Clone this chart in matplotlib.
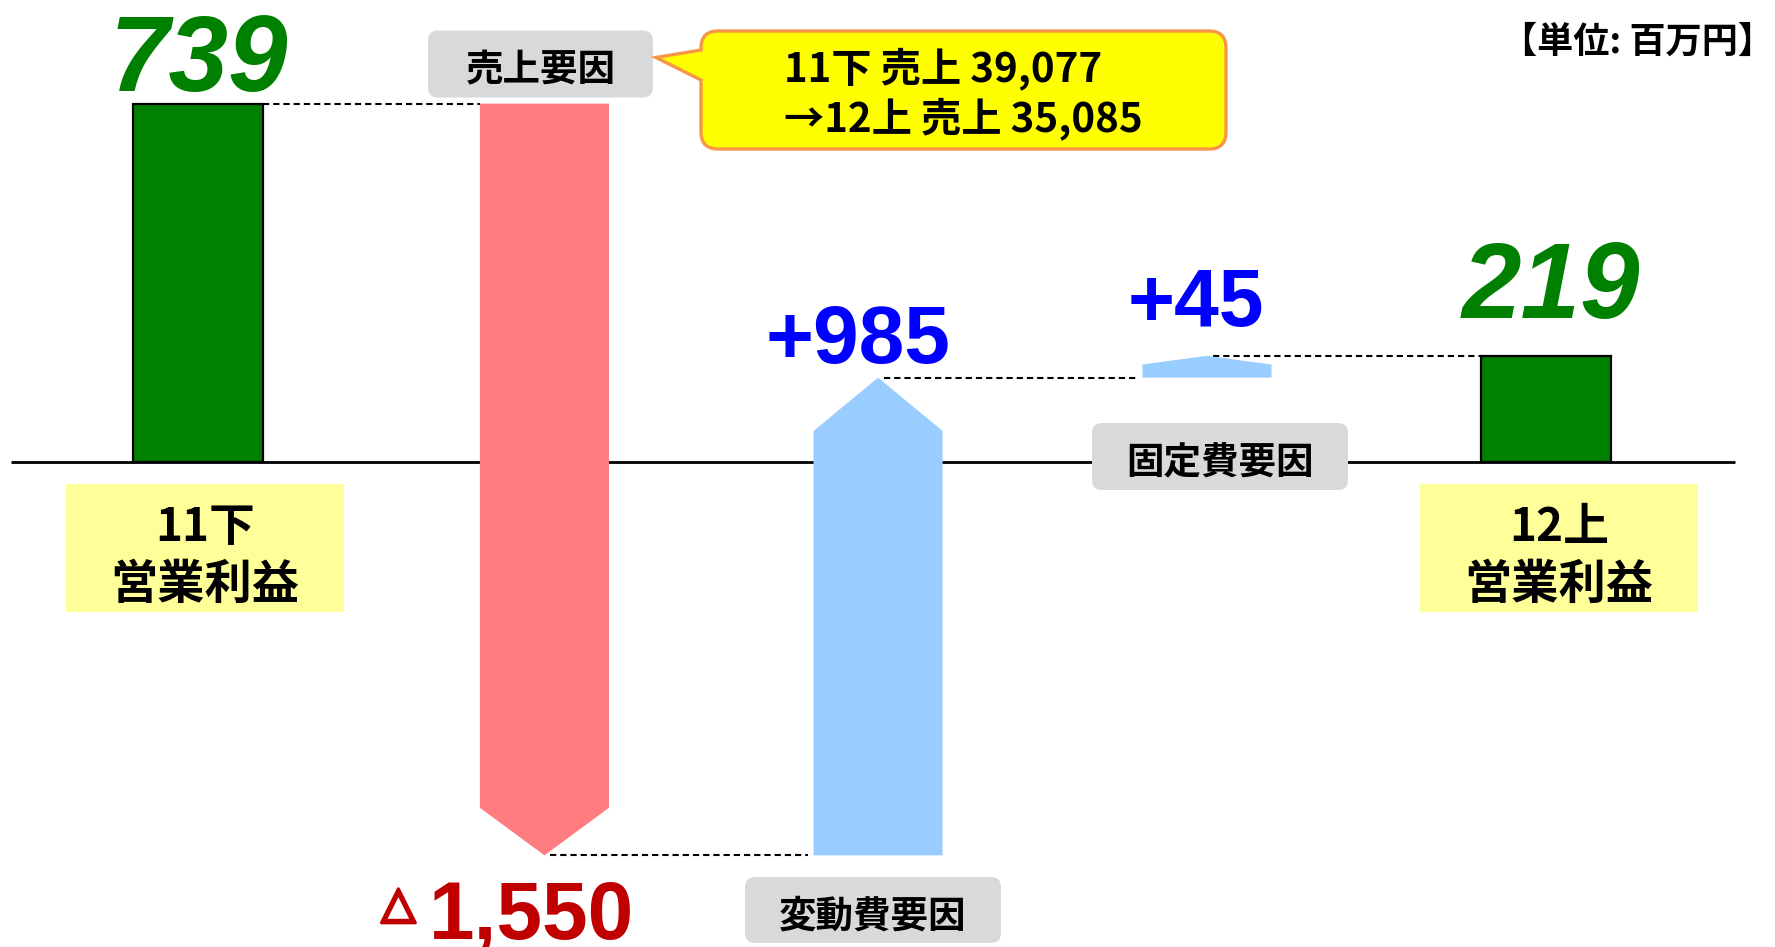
import matplotlib
matplotlib.use("Agg")
import matplotlib.pyplot as plt
import matplotlib.patheffects as pe
from matplotlib.patches import Polygon, FancyBboxPatch, Rectangle
from matplotlib.lines import Line2D
from matplotlib.transforms import Affine2D

plt.rcParams['font.family'] = ['Noto Sans CJK JP', 'DejaVu Sans']

# ---------------- data ----------------
categories = ['11下\n営業利益', '売上要因', '変動費要因', '固定費要因', '12上\n営業利益']
values = [739, -1550, 985, 45, 219]
kinds = ['total', 'delta', 'delta', 'delta', 'total']
value_labels = ['739', '1,550', '+985', '+45', '219']
callout_lines = ['11下 売上 39,077', '→12上 売上 35,085']
unit_label = '【単位: 百万円】'

# ---------------- layout / style ----------------
W, H, DPI = 1775, 947, 100
positions = [0, 1.028, 2.018, 2.994, 4.0]
bar_w = 0.383
x_px0, x_step = 198, 337          # pixel of position 0, pixels per position
y_px0, px_per_unit = 462, 0.485   # pixel of zero line, pixels per value unit
heads = [None, 98, 110, 18, None]
GREEN, PINK, BLUE = '#008000', '#FF7C80', '#99CCFF'
DARKRED, NUMBLUE = '#C00000', '#0000FF'
GRAY, LYELLOW, YELLOW, ORANGE = '#D9D9D9', '#FFFF99', '#FFFF00', '#F79646'
PT = 72 / DPI  # points per pixel

fig = plt.figure(figsize=(W / DPI, H / DPI), dpi=DPI)
ax = fig.add_axes([0, 0, 1, 1])
ax.set_xlim(-x_px0 / x_step, (W - x_px0) / x_step)
ax.set_ylim(-(H - y_px0) / px_per_unit, y_px0 / px_per_unit)
ax.axis('off')

# pixel-space transform for decorations (origin top-left)
tp = Affine2D().scale(1 / W, -1 / H).translate(0, 1) + fig.transFigure

# cumulative start/end
starts, ends = [], []
run = 0
for v, k in zip(values, kinds):
    if k == 'total':
        starts.append(0)
        ends.append(v)
        run = v
    else:
        starts.append(run)
        run += v
        ends.append(run)

# zero line
ax.plot([(11 - x_px0) / x_step, (1735 - x_px0) / x_step], [0, 0],
        color='black', lw=2.0, zorder=1, solid_capstyle='butt')

# bars / arrows
for i, (p, s, e, k) in enumerate(zip(positions, starts, ends, kinds)):
    if k == 'total':
        ax.add_patch(Rectangle((p - bar_w / 2, s), bar_w, e - s, facecolor=GREEN,
                               edgecolor='black', lw=1.6, zorder=3))
    else:
        h = heads[i]
        col = PINK if e < s else BLUE
        sh = e + h if e < s else e - h
        pts = [(p - bar_w / 2, s), (p + bar_w / 2, s), (p + bar_w / 2, sh),
               (p, e), (p - bar_w / 2, sh)]
        ax.add_patch(Polygon(pts, closed=True, facecolor=col, edgecolor='none', zorder=3))

# dashed connectors
dash = dict(color='black', lw=1.5, linestyle=(0, (3.0, 1.9)), zorder=2)
gap = 6 / x_step
ax.plot([positions[0] + bar_w / 2, positions[1] - bar_w / 2], [ends[0], ends[0]], **dash)
ax.plot([positions[1] + gap, positions[2] - bar_w / 2 - gap], [ends[1], ends[1]], **dash)
ax.plot([positions[2] + gap, positions[3] - bar_w / 2 - gap], [ends[2], ends[2]], **dash)
ax.plot([positions[3] + gap, positions[4] - bar_w / 2], [ends[3], ends[3]], **dash)

# value labels
num_font = 'Liberation Sans'
ax.annotate(value_labels[0], xy=(positions[0], ends[0]), xytext=(1 * PT, 13 * PT),
            textcoords='offset points', ha='center', va='baseline', fontsize=77,
            fontweight='bold', fontstyle='italic', color=GREEN, family=num_font)
ax.annotate(value_labels[4], xy=(positions[4], ends[4]), xytext=(5 * PT, 38 * PT),
            textcoords='offset points', ha='center', va='baseline', fontsize=77,
            fontweight='bold', fontstyle='italic', color=GREEN, family=num_font)
ax.annotate(value_labels[2], xy=(positions[2], ends[2]), xytext=(-20 * PT, 15 * PT),
            textcoords='offset points', ha='center', va='baseline', fontsize=59,
            fontweight='bold', color=NUMBLUE, family=num_font)
ax.annotate(value_labels[3], xy=(positions[3], ends[3]), xytext=(-11 * PT, 30 * PT),
            textcoords='offset points', ha='center', va='baseline', fontsize=58,
            fontweight='bold', color=NUMBLUE, family=num_font)
ax.annotate(value_labels[1], xy=(positions[1], ends[1]), xytext=(-13 * PT, -83 * PT),
            textcoords='offset points', ha='center', va='baseline', fontsize=59,
            fontweight='bold', color=DARKRED, family=num_font)
ax.annotate('△', xy=(positions[1], ends[1]), xytext=(-146 * PT, -62 * PT),
            textcoords='offset points', ha='center', va='baseline', fontsize=32,
            fontweight='bold', color=DARKRED, family='DejaVu Sans',
            path_effects=[pe.withStroke(linewidth=2.2, foreground=DARKRED)])

# gray category boxes (pixel layout: x, y, w, h)
gray_boxes = {1: (428, 30.5, 225, 67), 2: (745, 877, 256, 66), 3: (1092, 423, 256, 67)}
for i, (bx, by, bw, bh) in gray_boxes.items():
    fig.add_artist(FancyBboxPatch((bx, by), bw, bh,
                                  boxstyle='round,pad=0,rounding_size=10',
                                  facecolor=GRAY, edgecolor='none', transform=tp, zorder=5))
    fig.text(bx + bw / 2, by + bh / 2 + 6, categories[i], transform=tp, ha='center',
             va='center', fontsize=27, fontweight='bold', color='black', zorder=6)

# yellow total label boxes
yellow_boxes = {0: (66, 484, 278, 128), 4: (1420, 484, 278, 128)}
for i, (bx, by, bw, bh) in yellow_boxes.items():
    fig.add_artist(Rectangle((bx, by), bw, bh, facecolor=LYELLOW, edgecolor='none',
                             transform=tp, zorder=5))
    l1, l2 = categories[i].split('\n')
    fig.text(bx + bw / 2, 528, l1, transform=tp, ha='center', va='center',
             fontsize=33, fontweight='bold', color='black', zorder=6)
    fig.text(bx + bw / 2, 585, l2, transform=tp, ha='center', va='center',
             fontsize=34, fontweight='bold', color='black', zorder=6)

# callout
fig.add_artist(FancyBboxPatch((701, 31), 525, 118, boxstyle='round,pad=0,rounding_size=17',
                              facecolor=YELLOW, edgecolor=ORANGE, lw=2.4,
                              transform=tp, zorder=5))
fig.add_artist(Polygon([(706, 50), (701, 50), (656, 57.5), (701, 80), (706, 80)],
                       closed=True, facecolor=YELLOW, edgecolor='none',
                       transform=tp, zorder=6))
fig.add_artist(Line2D([701, 656, 701], [50, 57.5, 80], color=ORANGE, lw=2.4,
                      transform=tp, zorder=7, solid_joinstyle='miter'))
fig.text(784, 69, callout_lines[0], transform=tp, ha='left', va='center',
         fontsize=29, fontweight='bold', color='black', zorder=8)
fig.text(784, 119, callout_lines[1], transform=tp, ha='left', va='center',
         fontsize=29, fontweight='bold', color='black', zorder=8)

# unit label
fig.text(1774, 42, unit_label, transform=tp, ha='right', va='center',
         fontsize=26, fontweight='bold', color='black', zorder=8)

fig.savefig('out.png', dpi=DPI)
